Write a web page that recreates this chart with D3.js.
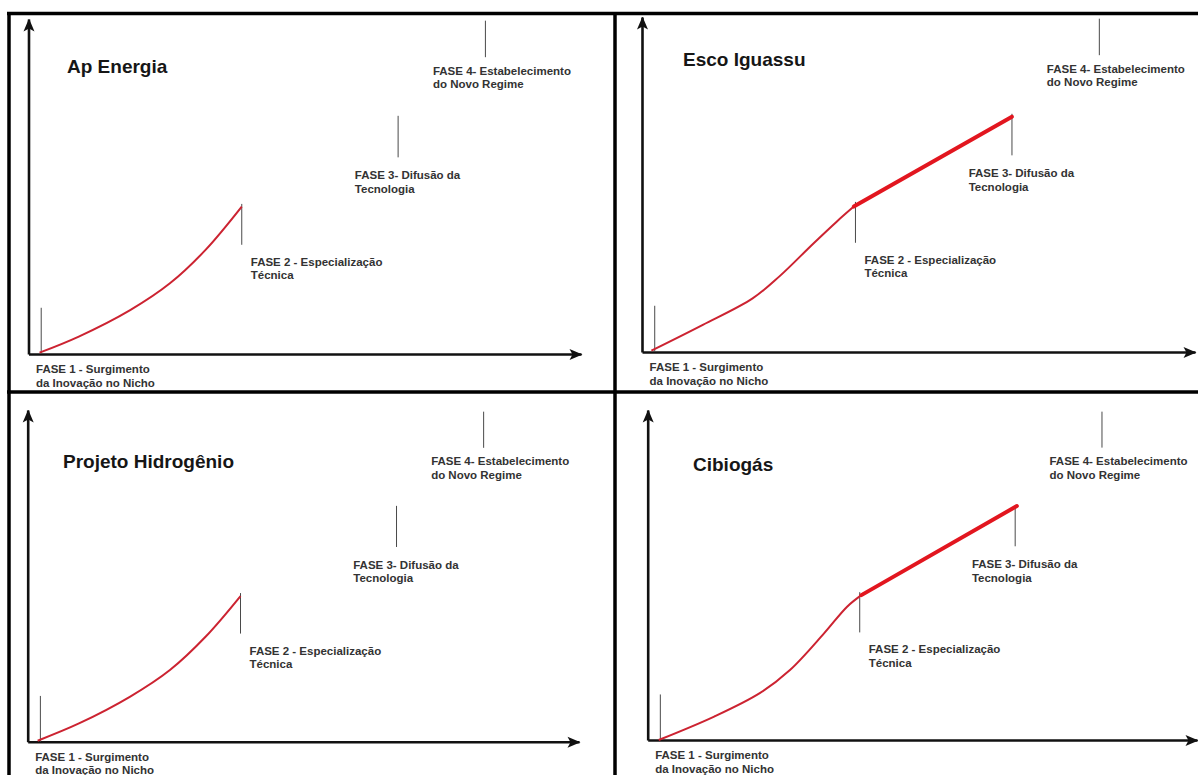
<!DOCTYPE html>
<html>
<head>
<meta charset="utf-8">
<script src="https://cdn.jsdelivr.net/npm/d3@7"></script>
<style>
body { margin: 0; background: #fff; }
svg { display: block; }
text { font-family: "Liberation Sans", Arial, sans-serif; }
</style>
</head>
<body>
<script>
// panel titles
var companies = ["Ap Energia", "Esco Iguassu", "Projeto Hidrogênio", "Cibiogás"]

// phases along the time axis (0-100) and the height of their marker (0-100)
var phaseX = [2.3, 38.6, 66.9, 82.7]
var phaseLow = [0, 32.6, 58.7, 88.6]
var phaseHigh = [13.8, 44.8, 71.1, 99.5]
var phaseLabels = [
    ["FASE 1 - Surgimento", "da Inovação no Nicho"],
    ["FASE 2 - Especialização", "Técnica"],
    ["FASE 3- Difusão da", "Tecnologia"],
    ["FASE 4- Estabelecimento", "do Novo Regime"]
]

// trajectory of each company [x, y]
var apEnergia = [[2.0, 0.4], [9.1, 5.2], [18.4, 13.1], [25.6, 21.1], [32.0, 31.0], [38.6, 44.0]]
var escoIguassu = [[1.7, 0.4], [11.0, 8.1], [20.0, 16.0], [24.8, 22.5], [31.0, 32.4], [35.2, 38.9], [38.3, 43.4]]
var escoIguassuFase3 = [[38.3, 43.4], [66.9, 70.2]]
var projetoHidrogenio = [[1.8, 0.3], [9.3, 5.5], [18.6, 13.6], [25.8, 21.6], [32.3, 31.7], [38.6, 43.9]]
var cibiogas = [[2.0, 0.0], [12.1, 7.1], [20.4, 14.2], [25.9, 21.2], [32.1, 32.3], [36.3, 40.4], [38.9, 43.9]]
var cibiogasFase3 = [[38.9, 43.9], [67.2, 70.9]]

var curves = [apEnergia, escoIguassu, projetoHidrogenio, cibiogas]
var curvesFase3 = [null, escoIguassuFase3, null, cibiogasFase3]

// where each panel sits on the page
var layout = [
    { x0: 28.5, y0: 354, x1: 581, y1: 19, tx: 67, ty: 73 },
    { x0: 642, y0: 352, x1: 1195, y1: 17, tx: 683, ty: 66 },
    { x0: 27.7, y0: 741.7, x1: 579, y1: 410, tx: 63, ty: 468 },
    { x0: 647.7, y0: 740, x1: 1197, y1: 410, tx: 693, ty: 471 }
]

var width = 1198
var height = 775

var svg = d3.select("body")
    .append("svg")
    .attr("width", width)
    .attr("height", height)

//arrow head for the axes
svg.append("defs")
    .append("marker")
    .attr("id", "arrow")
    .attr("viewBox", "-13 -6 14 12")
    .attr("refX", 0)
    .attr("refY", 0)
    .attr("markerWidth", 14)
    .attr("markerHeight", 12)
    .attr("markerUnits", "userSpaceOnUse")
    .attr("orient", "auto")
    .append("path")
    .attr("d", "M1,0L-12,-5.5L-9,0L-12,5.5Z")
    .attr("fill", "#111")

//frame around the four panels
var frame = svg.append("g").attr("stroke", "#000").attr("stroke-width", 3.5)
frame.append("line").attr("x1", 7).attr("x2", width).attr("y1", 13.5).attr("y2", 13.5)
frame.append("line").attr("x1", 9).attr("x2", 9).attr("y1", 12).attr("y2", height)
frame.append("line").attr("x1", 615).attr("x2", 615).attr("y1", 12).attr("y2", height)
frame.append("line").attr("x1", 7).attr("x2", width).attr("y1", 392).attr("y2", 392)

// label offsets from the phase marker, in px: [dx, dy]
var labelOffset = [[-5.2, 19], [9, 21], [-43.3, 21.8], [-52.5, 17.5]]
var lineGap = 13.6

companies.forEach(function (name, i) {
    var L = layout[i]
    var xScale = d3.scaleLinear().domain([0, 100]).range([L.x0, L.x1])
    var yScale = d3.scaleLinear().domain([0, 100]).range([L.y0, L.y1])

    var g = svg.append("g").attr("class", "panel")

    //x axis with arrow
    var xAxis = g.append("g")
        .attr("transform", "translate(0," + L.y0 + ")")
        .call(d3.axisBottom(xScale).tickValues([]).tickSizeOuter(0))
    xAxis.select(".domain")
        .attr("stroke", "#111")
        .attr("stroke-width", 2.6)
        .attr("marker-end", "url(#arrow)")

    //y axis with arrow
    var yAxis = g.append("g")
        .attr("transform", "translate(" + L.x0 + ",0)")
        .call(d3.axisLeft(yScale).tickValues([]).tickSizeOuter(0))
    yAxis.select(".domain")
        .attr("stroke", "#111")
        .attr("stroke-width", 2.6)
        .attr("marker-end", "url(#arrow)")

    //title
    g.append("text")
        .attr("x", L.tx)
        .attr("y", L.ty)
        .attr("font-size", "19px")
        .attr("font-weight", "bold")
        .attr("fill", "#161616")
        .text(name)

    //phase markers
    g.selectAll("line.phase")
        .data(phaseX)
        .enter()
        .append("line")
        .attr("class", "phase")
        .attr("x1", (d) => xScale(d))
        .attr("x2", (d) => xScale(d))
        .attr("y1", (d, j) => yScale(phaseLow[j]))
        .attr("y2", (d, j) => yScale(phaseHigh[j]))
        .attr("stroke", "#4a4a4a")
        .attr("stroke-width", 1)

    //phase labels
    var labels = g.selectAll("text.phase")
        .data(phaseLabels)
        .enter()
        .append("text")
        .attr("class", "phase")
        .attr("font-size", "11.5px")
        .attr("font-weight", "bold")
        .attr("fill", "#333")
    labels.selectAll("tspan")
        .data((d, j) => d.map((t) => ({ t: t, j: j })))
        .enter()
        .append("tspan")
        .attr("x", (d) => xScale(phaseX[d.j]) + labelOffset[d.j][0])
        .attr("y", (d, k) => yScale(phaseLow[d.j]) + labelOffset[d.j][1] + k * lineGap)
        .text((d) => d.t)

    //trajectory
    var line = d3.line()
        .x((d) => xScale(d[0]))
        .y((d) => yScale(d[1]))
        .curve(d3.curveCatmullRom.alpha(0.5))

    g.append("path")
        .datum(curves[i])
        .attr("d", line)
        .attr("fill", "none")
        .attr("stroke", "#cc2331")
        .attr("stroke-width", 2)

    if (curvesFase3[i]) {
        g.append("path")
            .datum(curvesFase3[i])
            .attr("d", d3.line().x((d) => xScale(d[0])).y((d) => yScale(d[1])))
            .attr("fill", "none")
            .attr("stroke", "#e2161f")
            .attr("stroke-width", 4)
            .attr("stroke-linecap", "round")
    }
})
</script>
</body>
</html>
